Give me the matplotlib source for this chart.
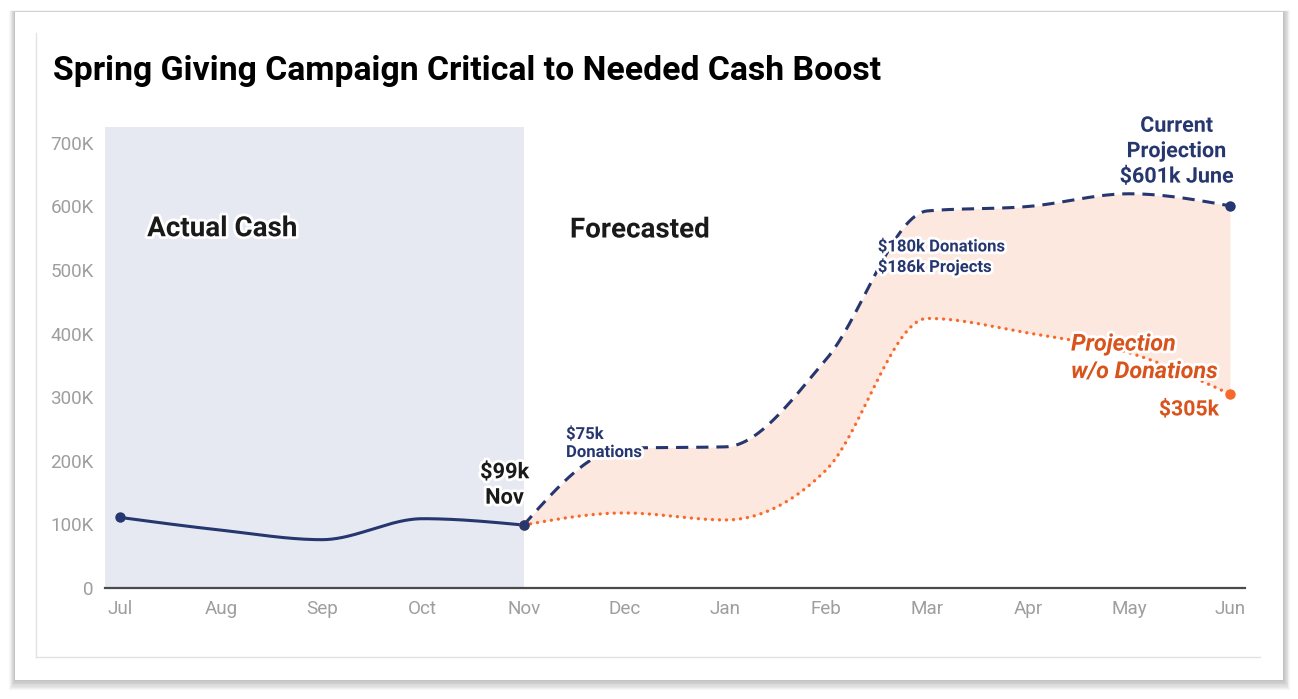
import matplotlib
matplotlib.use("Agg")
import matplotlib.pyplot as plt
import matplotlib.patheffects as pe
from matplotlib.patches import Rectangle
from matplotlib.lines import Line2D
import numpy as np

plt.rcParams['font.family'] = ['Roboto', 'DejaVu Sans']

months = ['Jul', 'Aug', 'Sep', 'Oct', 'Nov', 'Dec', 'Jan', 'Feb', 'Mar', 'Apr', 'May', 'Jun']
actual = [111000, 91000, 76000, 109000, 99000]                          # Jul..Nov
projection = [99000, 220000, 222000, 360000, 593000, 600000, 620000, 601000]   # Nov..Jun
no_donations = [99000, 118000, 107000, 186000, 424000, 401000, 370000, 305000]  # Nov..Jun
yticks = [0, 100000, 200000, 300000, 400000, 500000, 600000, 700000]
ytick_labels = ['0', '100K', '200K', '300K', '400K', '500K', '600K', '700K']

NAVY = '#26366f'
ORANGE = '#f7692a'
ORANGE_TXT = '#d9531c'
SALMON = '#fde8df'
ACT_BG = '#e6e9f2'


def monotone(xs, ys, n=40):
    # monotone cubic (same idea as d3 curveMonotoneX)
    xs = np.asarray(xs, float)
    ys = np.asarray(ys, float)
    h = np.diff(xs)
    s = np.diff(ys) / h
    m = np.zeros(len(xs))
    for i in range(1, len(xs) - 1):
        s0, s1 = s[i - 1], s[i]
        p = (s0 * h[i] + s1 * h[i - 1]) / (h[i - 1] + h[i])
        m[i] = (np.sign(s0) + np.sign(s1)) * min(abs(s0), abs(s1), 0.5 * abs(p))
    m[0] = (3 * s[0] - m[1]) / 2 if len(xs) > 2 else s[0]
    m[-1] = (3 * s[-1] - m[-2]) / 2 if len(xs) > 2 else s[-1]
    outx, outy = [], []
    for i in range(len(xs) - 1):
        t = np.linspace(0, 1, n, endpoint=(i == len(xs) - 2))
        h00 = 2 * t**3 - 3 * t**2 + 1
        h10 = t**3 - 2 * t**2 + t
        h01 = -2 * t**3 + 3 * t**2
        h11 = t**3 - t**2
        outx.append(xs[i] + t * h[i])
        outy.append(h00 * ys[i] + h10 * h[i] * m[i] + h01 * ys[i + 1] + h11 * h[i] * m[i + 1])
    return np.concatenate(outx), np.concatenate(outy)


W, H = 1298, 699
fig = plt.figure(figsize=(W / 100, H / 100), dpi=100)
fig.patch.set_facecolor('white')

# card with soft shadow
def px_rect(x0, y0, x1, y1, **kw):
    return Rectangle((x0 / W, 1 - y1 / H), (x1 - x0) / W, (y1 - y0) / H,
                     transform=fig.transFigure, **kw)

for k in range(8, 0, -1):
    fig.patches.append(px_rect(15 - k * 0.7, 12 - k * 0.2, 1283 + k * 0.9, 680 + k * 1.3,
                               facecolor='#000000', alpha=0.03, edgecolor='none', zorder=0))
fig.patches.append(px_rect(15, 12, 1283, 680, facecolor='white', edgecolor='none', zorder=1))
fig.lines.append(Line2D([36 / W, 36 / W], [1 - 33 / H, 1 - 657 / H], transform=fig.transFigure,
                        color='#e3e3e3', lw=1, zorder=2))
fig.lines.append(Line2D([36 / W, 1260 / W], [1 - 657 / H, 1 - 657 / H], transform=fig.transFigure,
                        color='#e3e3e3', lw=1, zorder=2))

ax = fig.add_axes([105 / W, 1 - 588 / H, (1245 - 105) / W, (588 - 127) / H])
ax.set_facecolor('none')
ax.set_zorder(3)

x_act = np.arange(len(actual))
x_fc = np.arange(len(actual) - 1, len(months))

ax.set_xlim(-0.149, 11.149)
ax.set_ylim(0, 725000)
ax.axvspan(-0.149, x_act[-1], color=ACT_BG, lw=0, zorder=0)

sx, sy = monotone(x_act, actual)
ax.plot(sx, sy, color=NAVY, lw=2.2, zorder=4, solid_capstyle='round')

px, py = monotone(x_fc, projection)
ox, oy = monotone(x_fc, no_donations)
ax.fill_between(px, py, oy, color=SALMON, lw=0, zorder=1)
ax.plot(ox, oy, color=ORANGE, lw=2.4, linestyle=(0, (0.01, 2.1)), dash_capstyle='round', zorder=3)
ax.plot(px, py, color=NAVY, lw=2.2, linestyle=(0, (4, 2.6)), zorder=4)

ax.plot([x_fc[0], x_fc[-1]], [no_donations[0], no_donations[-1]], 'o', color=ORANGE, ms=7.5,
        zorder=5, clip_on=False, mec='none')
ax.plot([x_act[0], x_act[-1], x_fc[-1]], [actual[0], actual[-1], projection[-1]], 'o',
        color=NAVY, ms=7.5, zorder=6, clip_on=False, mec='none')

ax.set_yticks(yticks)
ax.set_yticklabels(ytick_labels)
ax.set_xticks(np.arange(len(months)))
ax.set_xticklabels(months)
ax.tick_params(axis='both', length=0, labelsize=13.6, labelcolor='#9e9e9e')
ax.tick_params(axis='y', pad=8)
ax.tick_params(axis='x', pad=9)
for side in ['top', 'right', 'left']:
    ax.spines[side].set_visible(False)
ax.spines['bottom'].set_color('#4a4a4a')
ax.spines['bottom'].set_linewidth(1.6)
ax.spines['bottom'].set_zorder(2)

halo = [pe.withStroke(linewidth=4, foreground='white')]

ax.text(1.01, 565000, 'Actual Cash', fontsize=20, fontweight='bold', color='#1a1a1a',
        ha='center', va='center', path_effects=halo, zorder=7)
ax.text(5.15, 563000, 'Forecasted', fontsize=20, fontweight='bold', color='#1a1a1a',
        ha='center', va='center', path_effects=halo, zorder=7)
ax.text(3.81, 162000, '$99k\nNov', fontsize=15.7, fontweight='bold', color='#1a1a1a',
        ha='center', va='center', linespacing=1.2, path_effects=halo, zorder=7)
ax.text(4.42, 228000, '$75k\nDonations', fontsize=12, fontweight='bold', color=NAVY,
        ha='left', va='center', linespacing=1.25, path_effects=halo, zorder=7)
ax.text(7.51, 521000, '$180k Donations\n$186k Projects', fontsize=12, fontweight='bold', color=NAVY,
        ha='left', va='center', linespacing=1.25, path_effects=halo, zorder=7)
ax.text(10.47, 687000, 'Current\nProjection\n$601k June', fontsize=15.5, fontweight='bold',
        color=NAVY, ha='center', va='center', linespacing=1.2, path_effects=halo, zorder=7,
        clip_on=False)
ax.text(9.425, 362000, 'Projection\nw/o Donations', fontsize=16.8, fontweight='bold',
        fontstyle='italic', color=ORANGE_TXT, ha='left', va='center', linespacing=1.25,
        path_effects=halo, zorder=7)
ax.text(10.89, 280000, '$305k', fontsize=15.3, fontweight='bold', color=ORANGE_TXT,
        ha='right', va='center', path_effects=halo, zorder=7)

fig.text(53 / W, 1 - 71 / H, 'Spring Giving Campaign Critical to Needed Cash Boost',
         fontsize=24.3, fontweight='bold', color='black', ha='left', va='center', zorder=8)

fig.savefig('out.png', dpi=100, facecolor='white')
